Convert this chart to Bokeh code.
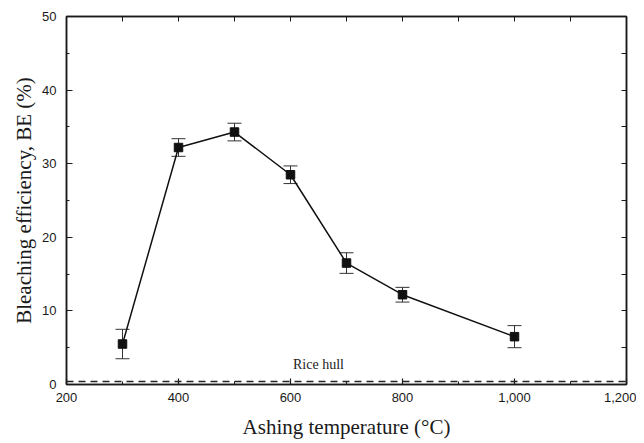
from bokeh.plotting import figure
from bokeh.models import (Range1d, LinearAxis, Whisker, ColumnDataSource, Span, Label,
                          NumeralTickFormatter, FixedTicker, TeeHead)
from bokeh.embed import file_html
from bokeh.resources import INLINE

# Data
temps = [300, 400, 500, 600, 700, 800, 1000]
be = [5.5, 32.2, 34.3, 28.5, 16.5, 12.2, 6.5]
err = [2.0, 1.2, 1.2, 1.2, 1.4, 1.0, 1.5]
rice_hull_be = 0.4
rice_label_pos = (650, 2.65)
x_ticks = [200, 400, 600, 800, 1000, 1200]
x_minor = [300, 500, 700, 900, 1100]
y_ticks = [0, 10, 20, 30, 40, 50]
y_minor = [5, 15, 25, 35, 45]

SERIF = "Liberation Serif"
SANS = "Liberation Sans"
INK = "#1a1a1a"

src = ColumnDataSource(dict(
    x=temps, y=be,
    upper=[b + e for b, e in zip(be, err)],
    lower=[b - e for b, e in zip(be, err)],
))

p = figure(width=636, height=442, x_range=Range1d(200, 1200), y_range=Range1d(0, 50),
           output_backend="svg", toolbar_location=None,
           min_border_left=66, min_border_right=10, min_border_top=16, min_border_bottom=58)
p.xgrid.visible = False
p.ygrid.visible = False
p.outline_line_color = INK
p.outline_line_width = 1.5

def style_axis(ax, ticks, minor):
    ax.ticker = FixedTicker(ticks=ticks, minor_ticks=minor)
    ax.major_tick_in = 6
    ax.major_tick_out = 0
    ax.minor_tick_in = 3
    ax.minor_tick_out = 0
    ax.axis_line_color = INK
    ax.axis_line_width = 1.5
    ax.major_tick_line_color = INK
    ax.minor_tick_line_color = INK
    ax.major_tick_line_width = 1.2
    ax.major_label_text_font = SANS
    ax.major_label_text_font_size = "13px"
    ax.major_label_text_color = INK
    ax.axis_label_text_font = SERIF
    ax.axis_label_text_font_style = "normal"
    ax.axis_label_text_font_size = "21px"
    ax.axis_label_text_color = INK

xa = p.xaxis[0]
style_axis(xa, x_ticks, x_minor)
xa.formatter = NumeralTickFormatter(format="0,0")
xa.major_label_standoff = 8
xa.axis_label = "Ashing temperature (°C)"
xa.axis_label_standoff = 10

ya = p.yaxis[0]
style_axis(ya, y_ticks, y_minor)
ya.major_label_standoff = 10
ya.axis_label = "Bleaching efficiency, BE (%)"
ya.axis_label_standoff = 3

# Top and right frame ticks (tick marks only, no labels)
def tick_only_axis(all_ticks):
    ax = LinearAxis(ticker=FixedTicker(ticks=[], minor_ticks=all_ticks))
    ax.minor_tick_in = 5
    ax.minor_tick_out = 0
    ax.minor_tick_line_color = INK
    ax.axis_line_color = INK
    ax.axis_line_width = 1.5
    ax.major_label_standoff = 0
    return ax

p.add_layout(tick_only_axis(sorted(x_ticks + x_minor)), "above")
p.add_layout(tick_only_axis(sorted(y_ticks + y_minor)), "right")

# Rice hull reference
p.add_layout(Span(location=rice_hull_be, dimension="width", line_color="#222222",
                  line_width=1.5, line_dash="7 5"))
p.add_layout(Label(x=rice_label_pos[0], y=rice_label_pos[1], text="Rice hull",
                   text_font=SERIF, text_font_size="14px", text_align="center",
                   text_baseline="middle", text_color="#222222"))

# Error bars
p.add_layout(Whisker(source=src, base="x", upper="upper", lower="lower",
                     line_color="#333333", line_width=1,
                     upper_head=TeeHead(size=14, line_color="#333333", line_width=1),
                     lower_head=TeeHead(size=14, line_color="#333333", line_width=1)))

p.line("x", "y", source=src, line_color="#111111", line_width=1.5)
p.scatter("x", "y", source=src, marker="square", size=8.5, fill_color="#111111",
          line_color="#111111")

open("out.html", "w").write(file_html(p, INLINE))
